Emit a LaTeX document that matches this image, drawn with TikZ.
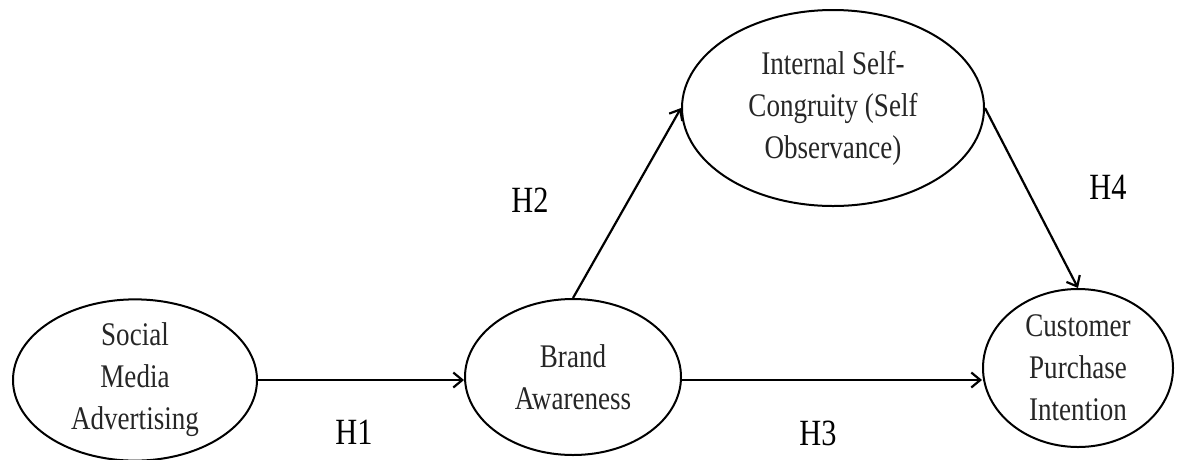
\documentclass[tikz,border=0pt]{standalone}
\usepackage{fontspec}
\setmainfont[FakeStretch=0.82]{Liberation Serif}
\usepackage{tikz}
\usetikzlibrary{arrows.meta}
\usetikzlibrary{shapes.geometric}

\begin{document}
\begin{tikzpicture}[
        x=1pt, y=-1pt,
        construct/.style = {ellipse, draw, line width=2pt, inner sep=0pt, align=center,
                text=black!85, font=\fontsize{33}{42}\selectfont},
        path/.style = {line width=2.2pt, -{Straight Barb[length=9pt,width=15pt,line width=2.2pt]}},
        hyp/.style = {font=\fontsize{37}{40}\selectfont},
    ]
    \useasboundingbox (0,0) rectangle (1177,459);
    \node[construct, minimum width=244pt, minimum height=156pt] (sma) at (135,380) {Social\\Media\\Advertising};
    \node[construct, minimum width=216pt, minimum height=156pt] (ba) at (573,377) {Brand\\Awareness};
    \node[construct, minimum width=302pt, minimum height=196pt] (isc) at (833,108) {Internal Self-\\Congruity (Self\\Observance)};
    \node[construct, minimum width=190pt, minimum height=158pt] (cpi) at (1078,368) {Customer\\Purchase\\Intention};
    % \draw [path] (sma.east) -- (ba.west);
    \draw [path] (sma.east) -- (sma.east -| ba.west);
    \draw [path] (ba.north) -- (isc.west);
    \draw [path] (sma.east -| ba.east) -- (sma.east -| cpi.west);
    \draw [path] (isc.east) -- (cpi.north);
    \node[hyp] (h1) at (354,432) {H1};
    \node[hyp] (h2) at (530,200) {H2};
    \node[hyp] (h3) at (818,433) {H3};
    \node[hyp] (h4) at (1108,187) {H4};
\end{tikzpicture}
\end{document}
